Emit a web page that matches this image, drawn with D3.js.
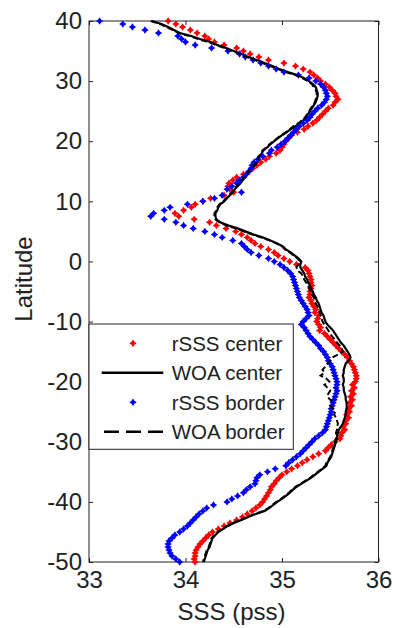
<!DOCTYPE html>
<html>
<head>
<meta charset="utf-8">
<script src="https://cdn.jsdelivr.net/npm/d3@7/dist/d3.min.js"></script>
<style>
  html, body { margin: 0; padding: 0; background: #fff; }
  svg { display: block; font-family: "Liberation Sans", Arial, sans-serif; }
</style>
</head>
<body>
<svg id="profile"></svg>
<script>
// latitude grid shared by every series (deg N)
const latitudes = [
  40, 39.5, 39, 38.5, 38, 37.5, 37, 36.5, 36, 35.5,
  35, 34.5, 34, 33.5, 33, 32.5, 32, 31.5, 31, 30.5,
  30, 29.5, 29, 28.5, 28, 27.5, 27, 26.5, 26, 25.5,
  25, 24.5, 24, 23.5, 23, 22.5, 22, 21.5, 21, 20.5,
  20, 19.5, 19, 18.5, 18, 17.5, 17, 16.5, 16, 15.5,
  15, 14.5, 14, 13.5, 13, 12.5, 12, 11.5, 11, 10.5,
  10, 9.5, 9, 8.5, 8, 7.5, 7, 6.5, 6, 5.5,
  5, 4.5, 4, 3.5, 3, 2.5, 2, 1.5, 1, 0.5,
  0, -0.5, -1, -1.5, -2, -2.5, -3, -3.5, -4, -4.5,
  -5, -5.5, -6, -6.5, -7, -7.5, -8, -8.5, -9, -9.5,
  -10, -10.5, -11, -11.5, -12, -12.5, -13, -13.5, -14, -14.5,
  -15, -15.5, -16, -16.5, -17, -17.5, -18, -18.5, -19, -19.5,
  -20, -20.5, -21, -21.5, -22, -22.5, -23, -23.5, -24, -24.5,
  -25, -25.5, -26, -26.5, -27, -27.5, -28, -28.5, -29, -29.5,
  -30, -30.5, -31, -31.5, -32, -32.5, -33, -33.5, -34, -34.5,
  -35, -35.5, -36, -36.5, -37, -37.5, -38, -38.5, -39, -39.5,
  -40, -40.5, -41, -41.5, -42, -42.5, -43, -43.5, -44, -44.5,
  -45, -45.5, -46, -46.5, -47, -47.5, -48, -48.5, -49, -49.5,
  -50
];

// rSSS center (red markers)
const rsssCenter = [
  33.82, 33.90, 33.97, 34.05, 34.12, 34.20, 34.24, 34.30, 34.40, 34.53,
  34.60, 34.67, 34.76, 34.86, 35.02, 35.14, 35.22, 35.29, 35.33, 35.37,
  35.40, 35.45, 35.49, 35.52, 35.55, 35.56, 35.58, 35.55, 35.53, 35.48,
  35.45, 35.42, 35.39, 35.36, 35.32, 35.27, 35.23, 35.16, 35.10, 35.07,
  35.04, 35.02, 35.00, 34.98, 34.94, 34.87, 34.83, 34.78, 34.74, 34.70,
  34.66, 34.60, 34.53, 34.49, 34.45, 34.44, 34.46, 34.50, 34.40, 34.26,
  34.18, 34.10, 34.06, 33.98, 33.89, 33.93, 34.09, 34.25, 34.32, 34.42,
  34.52, 34.58, 34.64, 34.68, 34.72, 34.78, 34.86, 34.92, 34.96, 35.02,
  35.08, 35.15, 35.24, 35.27, 35.28, 35.29, 35.30, 35.30, 35.31, 35.30,
  35.29, 35.29, 35.28, 35.30, 35.31, 35.33, 35.35, 35.34, 35.38, 35.37,
  35.36, 35.38, 35.40, 35.39, 35.44, 35.47, 35.50, 35.53, 35.56, 35.59,
  35.62, 35.65, 35.68, 35.70, 35.72, 35.74, 35.75, 35.76, 35.77, 35.77,
  35.76, 35.73, 35.75, 35.72, 35.74, 35.71, 35.73, 35.70, 35.72, 35.69,
  35.70, 35.67, 35.69, 35.66, 35.66, 35.63, 35.65, 35.62, 35.61, 35.60,
  35.55, 35.51, 35.48, 35.45, 35.38, 35.32, 35.26, 35.21, 35.16, 35.10,
  35.05, 35.00, 34.97, 34.94, 34.92, 34.89, 34.88, 34.86, 34.84, 34.82,
  34.80, 34.77, 34.73, 34.69, 34.64, 34.59, 34.53, 34.46, 34.40, 34.34,
  34.28, 34.24, 34.21, 34.18, 34.15, 34.13, 34.11, 34.10, 34.10, 34.09,
  34.10
];

// rSSS border (blue markers)
const rsssBorder = [
  33.11, 33.35, 33.45, 33.58, 33.72, 33.92, 33.96, 34.00, 34.10, 34.27,
  34.44, 34.56, 34.62, 34.70, 34.78, 34.86, 34.94, 35.02, 35.17, 35.28,
  35.35, 35.40, 35.43, 35.45, 35.46, 35.47, 35.46, 35.44, 35.41, 35.37,
  35.34, 35.31, 35.29, 35.26, 35.22, 35.18, 35.15, 35.12, 35.09, 35.06,
  35.03, 34.99, 34.95, 34.89, 34.87, 34.80, 34.75, 34.71, 34.69, 34.68,
  34.66, 34.63, 34.60, 34.56, 34.53, 34.48, 34.43, 34.58, 34.38, 34.30,
  34.18, 34.02, 33.84, 33.78, 33.67, 33.64, 33.78, 33.90, 33.98, 34.08,
  34.20, 34.30, 34.38, 34.49, 34.58, 34.61, 34.64, 34.68, 34.76, 34.86,
  34.92, 34.98, 35.02, 35.06, 35.09, 35.11, 35.12, 35.13, 35.14, 35.15,
  35.16, 35.17, 35.18, 35.20, 35.22, 35.24, 35.26, 35.27, 35.28, 35.25,
  35.22, 35.20, 35.23, 35.25, 35.27, 35.29, 35.32, 35.35, 35.38, 35.40,
  35.43, 35.45, 35.47, 35.48, 35.50, 35.52, 35.53, 35.54, 35.55, 35.56,
  35.57, 35.57, 35.56, 35.57, 35.56, 35.55, 35.54, 35.53, 35.52, 35.51,
  35.51, 35.50, 35.49, 35.48, 35.47, 35.46, 35.45, 35.42, 35.38, 35.34,
  35.31, 35.28, 35.25, 35.22, 35.19, 35.15, 35.11, 35.07, 35.04, 34.93,
  34.85, 34.77, 34.74, 34.73, 34.72, 34.67, 34.63, 34.60, 34.54, 34.48,
  34.43, 34.29, 34.22, 34.18, 34.14, 34.11, 34.08, 34.05, 34.02, 33.98,
  33.94, 33.89, 33.86, 33.83, 33.82, 33.82, 33.83, 33.84, 33.86, 33.90,
  33.94
];

// WOA center (solid black)
const woaCenter = [
  33.65, 33.75, 33.82, 33.88, 33.94, 34.06, 34.15, 34.26, 34.33, 34.42,
  34.50, 34.58, 34.65, 34.74, 34.82, 34.90, 34.97, 35.06, 35.16, 35.23,
  35.28, 35.32, 35.35, 35.36, 35.37, 35.37, 35.36, 35.35, 35.33, 35.31,
  35.29, 35.27, 35.25, 35.22, 35.19, 35.14, 35.09, 35.05, 35.00, 34.96,
  34.92, 34.88, 34.85, 34.81, 34.79, 34.77, 34.76, 34.74, 34.72, 34.69,
  34.66, 34.64, 34.62, 34.59, 34.57, 34.54, 34.51, 34.49, 34.46, 34.43,
  34.40, 34.36, 34.34, 34.33, 34.31, 34.31, 34.32, 34.36, 34.44, 34.54,
  34.62, 34.70, 34.80, 34.88, 34.95, 35.01, 35.04, 35.09, 35.13, 35.17,
  35.20, 35.19, 35.19, 35.21, 35.23, 35.24, 35.26, 35.27, 35.29, 35.30,
  35.32, 35.33, 35.35, 35.36, 35.38, 35.39, 35.40, 35.41, 35.43, 35.44,
  35.45, 35.47, 35.50, 35.53, 35.55, 35.57, 35.59, 35.61, 35.64, 35.66,
  35.68, 35.70, 35.71, 35.69, 35.66, 35.65, 35.64, 35.64, 35.63, 35.64,
  35.64, 35.63, 35.64, 35.64, 35.65, 35.66, 35.66, 35.67, 35.67, 35.67,
  35.66, 35.66, 35.65, 35.64, 35.63, 35.61, 35.59, 35.58, 35.57, 35.57,
  35.56, 35.55, 35.54, 35.53, 35.52, 35.51, 35.49, 35.47, 35.46, 35.42,
  35.38, 35.34, 35.30, 35.25, 35.20, 35.15, 35.11, 35.08, 35.04, 35.00,
  34.95, 34.91, 34.87, 34.82, 34.73, 34.65, 34.58, 34.50, 34.44, 34.39,
  34.34, 34.31, 34.28, 34.27, 34.26, 34.25, 34.23, 34.22, 34.21, 34.20,
  34.19
];

// WOA border (dashed black)
const woaBorder = [
  33.64, 33.74, 33.80, 33.87, 33.93, 34.04, 34.13, 34.24, 34.32, 34.40,
  34.49, 34.56, 34.64, 34.72, 34.80, 34.88, 34.96, 35.04, 35.14, 35.21,
  35.27, 35.31, 35.33, 35.35, 35.36, 35.36, 35.35, 35.34, 35.32, 35.30,
  35.28, 35.26, 35.24, 35.21, 35.17, 35.12, 35.08, 35.04, 34.99, 34.95,
  34.91, 34.87, 34.84, 34.80, 34.78, 34.76, 34.75, 34.73, 34.71, 34.68,
  34.65, 34.63, 34.61, 34.58, 34.56, 34.53, 34.50, 34.48, 34.45, 34.42,
  34.39, 34.35, 34.33, 34.32, 34.30, 34.30, 34.31, 34.35, 34.42, 34.52,
  34.60, 34.69, 34.78, 34.87, 34.94, 35.00, 35.03, 35.08, 35.12, 35.16,
  35.19, 35.17, 35.15, 35.16, 35.20, 35.22, 35.23, 35.25, 35.27, 35.28,
  35.30, 35.31, 35.33, 35.34, 35.35, 35.37, 35.38, 35.39, 35.40, 35.41,
  35.42, 35.44, 35.46, 35.48, 35.50, 35.52, 35.55, 35.57, 35.60, 35.62,
  35.63, 35.58, 35.52, 35.50, 35.47, 35.45, 35.42, 35.44, 35.40, 35.46,
  35.49, 35.44, 35.47, 35.50, 35.48, 35.47, 35.50, 35.52, 35.50, 35.53,
  35.55, 35.54, 35.56, 35.57, 35.58, 35.57, 35.57, 35.56, 35.56, 35.56,
  35.55, 35.54, 35.53, 35.52, 35.51, 35.50, 35.48, 35.46, 35.45, 35.41,
  35.37, 35.33, 35.29, 35.24, 35.19, 35.14, 35.10, 35.07, 35.03, 34.99,
  34.94, 34.90, 34.86, 34.81, 34.72, 34.64, 34.57, 34.49, 34.43, 34.38,
  34.33, 34.30, 34.27, 34.26, 34.25, 34.24, 34.22, 34.21, 34.20, 34.19,
  34.18
];

const xTicks = [33, 34, 35, 36];
const yTicks = [40, 30, 20, 10, 0, -10, -20, -30, -40, -50];
const legendLabels = ['rSSS center', 'WOA center', 'rSSS border', 'WOA border'];

class SalinityProfile {
    constructor(config) {
        this.config = {
            parentElement: config.parentElement,
            containerWidth: config.containerWidth ?? 393,
            containerHeight: config.containerHeight ?? 628,
            margin: config.margin ?? { top: 21, right: 14.5, bottom: 66, left: 89 }
        };
        this.initVis();
    }

    initVis() {
        let vis = this;
        vis.width = vis.config.containerWidth - vis.config.margin.left - vis.config.margin.right;
        vis.height = vis.config.containerHeight - vis.config.margin.top - vis.config.margin.bottom;

        vis.xScale = d3.scaleLinear().domain([33, 36]).range([0, vis.width]);
        vis.yScale = d3.scaleLinear().domain([-50, 40]).range([vis.height, 0]);

        vis.svg = d3.select(vis.config.parentElement)
            .attr('width', vis.config.containerWidth)
            .attr('height', vis.config.containerHeight);

        vis.chart = vis.svg.append('g')
            .attr('transform', `translate(${vis.config.margin.left},${vis.config.margin.top})`);

        vis.series = latitudes.map((lat, i) => ({
            lat: lat,
            center: rsssCenter[i],
            border: rsssBorder[i],
            woaC: woaCenter[i],
            woaB: woaBorder[i]
        }));

        vis.renderVis();
    }

    renderVis() {
        let vis = this;
        const axisColour = '#222';
        // four-pointed blob, close to the matlab markers after resampling
        const markerPath = 'M0,-3.7L1.5,-1.5L3.7,0L1.5,1.5L0,3.7L-1.5,1.5L-3.7,0L-1.5,-1.5Z';

        // axes with inward ticks on all four sides (matlab box)
        const styleAxis = (g, fontSize) => {
            g.select('.domain').remove();
            g.attr('color', axisColour)
                .attr('font-family', '"Liberation Sans", Arial, sans-serif')
                .attr('font-size', fontSize);
            g.selectAll('.tick line').attr('stroke-width', 1);
        };

        vis.chart.append('g')
            .attr('transform', `translate(0,${vis.height})`)
            .call(d3.axisBottom(vis.xScale).tickValues(xTicks).tickSize(-4).tickPadding(9).tickFormat(d3.format('d')))
            .call(g => styleAxis(g, 24));

        vis.chart.append('g')
            .call(d3.axisTop(vis.xScale).tickValues(xTicks).tickSize(-4).tickFormat(''))
            .call(g => styleAxis(g, 24));

        vis.chart.append('g')
            .call(d3.axisLeft(vis.yScale).tickValues(yTicks).tickSize(-4).tickPadding(7))
            .call(g => styleAxis(g, 24))
            .call(g => g.selectAll('text').text(d => d < 0 ? '-' + Math.abs(d) : d));

        vis.chart.append('g')
            .attr('transform', `translate(${vis.width},0)`)
            .call(d3.axisRight(vis.yScale).tickValues(yTicks).tickSize(-4).tickFormat(''))
            .call(g => styleAxis(g, 24));

        vis.chart.append('rect')
            .attr('width', vis.width)
            .attr('height', vis.height)
            .attr('fill', 'none')
            .attr('stroke', axisColour)
            .attr('stroke-width', 1);

        const lineC = d3.line().x(d => vis.xScale(d.woaC)).y(d => vis.yScale(d.lat));
        const lineB = d3.line().x(d => vis.xScale(d.woaB)).y(d => vis.yScale(d.lat));

        // plot order: red, solid black, blue, dashed black
        vis.chart.append('g').selectAll('.center')
            .data(vis.series)
            .join('path')
            .attr('class', 'center')
            .attr('transform', d => `translate(${vis.xScale(d.center)},${vis.yScale(d.lat)})`)
            .attr('d', markerPath)
            .attr('fill', '#ff0000');

        vis.chart.append('path')
            .datum(vis.series)
            .attr('d', lineC)
            .attr('fill', 'none')
            .attr('stroke', '#000')
            .attr('stroke-width', 2.2);

        vis.chart.append('g').selectAll('.border')
            .data(vis.series)
            .join('path')
            .attr('class', 'border')
            .attr('transform', d => `translate(${vis.xScale(d.border)},${vis.yScale(d.lat)})`)
            .attr('d', markerPath)
            .attr('fill', '#0000ff');

        vis.chart.append('path')
            .datum(vis.series)
            .attr('d', lineB)
            .attr('fill', 'none')
            .attr('stroke', '#000')
            .attr('stroke-width', 2)
            .attr('stroke-dasharray', '6,3');

        // axis titles
        vis.svg.append('text')
            .attr('x', 231.5)
            .attr('y', 620)
            .attr('text-anchor', 'middle')
            .attr('font-size', 24)
            .attr('fill', axisColour)
            .text('SSS (pss)');

        vis.svg.append('text')
            .attr('transform', 'translate(32,279) rotate(-90)')
            .attr('text-anchor', 'middle')
            .attr('font-size', 24)
            .attr('fill', axisColour)
            .text('Latitude');

        // legend
        const legend = vis.svg.append('g').attr('transform', 'translate(89,324)');
        legend.append('rect')
            .attr('width', 204.3)
            .attr('height', 125.3)
            .attr('fill', '#fff')
            .attr('stroke', axisColour)
            .attr('stroke-width', 1);

        const rows = legend.selectAll('.entry')
            .data(legendLabels)
            .join('g')
            .attr('class', 'entry')
            .attr('transform', (d, i) => `translate(0,${19.3 + i * 29.5})`);

        rows.filter((d, i) => i === 0 || i === 2)
            .append('path')
            .attr('transform', 'translate(44,0)')
            .attr('d', markerPath)
            .attr('fill', (d, i) => i === 0 ? '#ff0000' : '#0000ff');

        rows.filter((d, i) => i === 1 || i === 3)
            .append('line')
            .attr('x1', (d, i) => i === 0 ? 12.7 : 15)
            .attr('x2', 74.3)
            .attr('stroke', '#000')
            .attr('stroke-width', 2.5)
            .attr('stroke-dasharray', (d, i) => i === 0 ? null : '15,7');

        rows.append('text')
            .attr('x', 82.7)
            .attr('dy', '0.36em')
            .attr('font-size', 20.5)
            .attr('fill', axisColour)
            .text(d => d);
    }
}

new SalinityProfile({ parentElement: '#profile' });
</script>
</body>
</html>
